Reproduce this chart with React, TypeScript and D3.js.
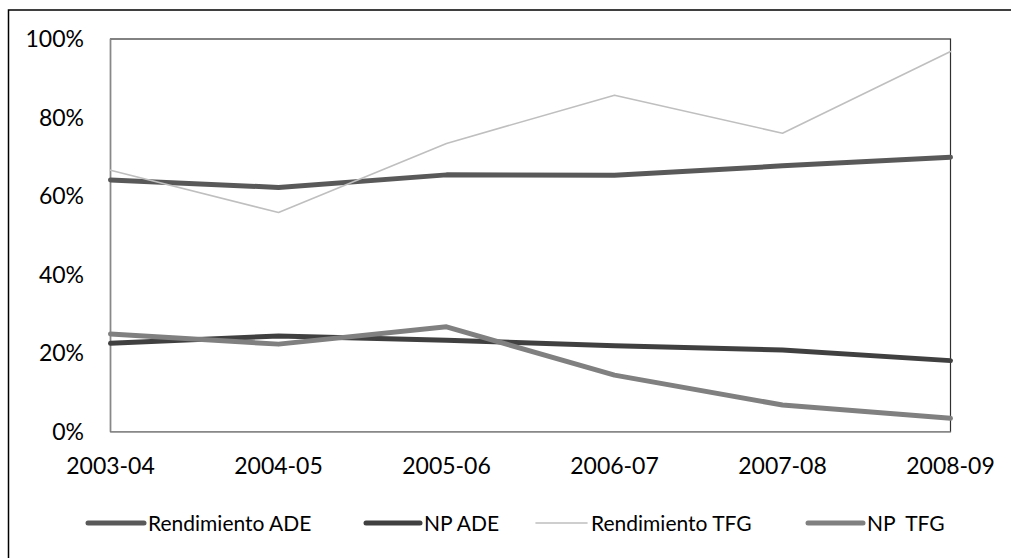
import React from "react";
import * as d3 from "d3";

const categories = ["2003-04", "2004-05", "2005-06", "2006-07", "2007-08", "2008-09"];
const rendimientoADE = [0.641, 0.622, 0.654, 0.653, 0.677, 0.699];
const npADE = [0.225, 0.244, 0.233, 0.219, 0.208, 0.181];
const rendimientoTFG = [0.666, 0.558, 0.734, 0.857, 0.76, 0.968];
const npTFG = [0.249, 0.223, 0.267, 0.144, 0.068, 0.034];
const yTicks = [0, 0.2, 0.4, 0.6, 0.8, 1.0];

const seriesNames = ["Rendimiento ADE", "NP ADE", "Rendimiento TFG", "NP  TFG"];
const seriesValues = [rendimientoADE, npADE, rendimientoTFG, npTFG];
const seriesColors = ["#595959", "#404040", "#bfbfbf", "#808080"];
const seriesWidths = [5, 5, 1.6, 5];

const W = 1011;
const H = 558;
const FONT = "Lato, 'Open Sans', sans-serif";
const FS = 23;
const LFS = 21;

export default function App() {
  const x = d3.scalePoint<string>().domain(categories).range([110.5, 950.5]);
  const y = d3.scaleLinear().domain([0, 1]).range([431.7, 39]);
  const line = d3
    .line<number>()
    .x((_, i) => x(categories[i]) as number)
    .y((d) => y(d));
  const legendLines = [
    [88, 144],
    [366, 420],
    [536, 587],
    [808, 863],
  ];
  return (
    <div style={{ position: "fixed", left: 0, top: 0 }}>
      <svg width={W} height={H} style={{ display: "block", background: "#fff" }}>
        <rect x={8.5} y={10} width={W + 10} height={H + 10} fill="#fff" stroke="#000" strokeWidth={1.5} />
        <rect
          x={x(categories[0])}
          y={y(1)}
          width={(x(categories[5]) as number) - (x(categories[0]) as number)}
          height={y(0) - y(1)}
          fill="none"
          stroke="#303030"
          strokeWidth={1.2}
        />
        <line x1={x(categories[0])} x2={x(categories[0])} y1={y(1)} y2={y(0)} stroke="#888" strokeWidth={1.5} />
        <line x1={x(categories[0])} x2={x(categories[5])} y1={y(0)} y2={y(0)} stroke="#888" strokeWidth={1.5} />
        {yTicks.map((t) => (
          <text key={t} x={84} y={y(t)} dy="0.36em" textAnchor="end" fontFamily={FONT} fontSize={FS} fill="#000">
            {d3.format(".0%")(t)}
          </text>
        ))}
        {categories.map((c) => (
          <text key={c} x={x(c)} y={466} dy="0.36em" textAnchor="middle" fontFamily={FONT} fontSize={FS} fill="#000">
            {c}
          </text>
        ))}
        {seriesValues.map((vals, i) => (
          <path
            key={seriesNames[i]}
            d={line(vals) || ""}
            fill="none"
            stroke={seriesColors[i]}
            strokeWidth={seriesWidths[i]}
            strokeLinejoin="round"
            strokeLinecap="round"
          />
        ))}
        {seriesNames.map((n, i) => (
          <g key={n}>
            <line
              x1={legendLines[i][0]}
              x2={legendLines[i][1]}
              y1={523}
              y2={523}
              stroke={seriesColors[i]}
              strokeWidth={seriesWidths[i]}
              strokeLinecap="round"
            />
            <text
              x={legendLines[i][1] + 4}
              y={523}
              dy="0.36em"
              fontFamily={FONT}
              fontSize={LFS}
              fill="#000"
              style={{ whiteSpace: "pre" }}
            >
              {n}
            </text>
          </g>
        ))}
      </svg>
    </div>
  );
}
